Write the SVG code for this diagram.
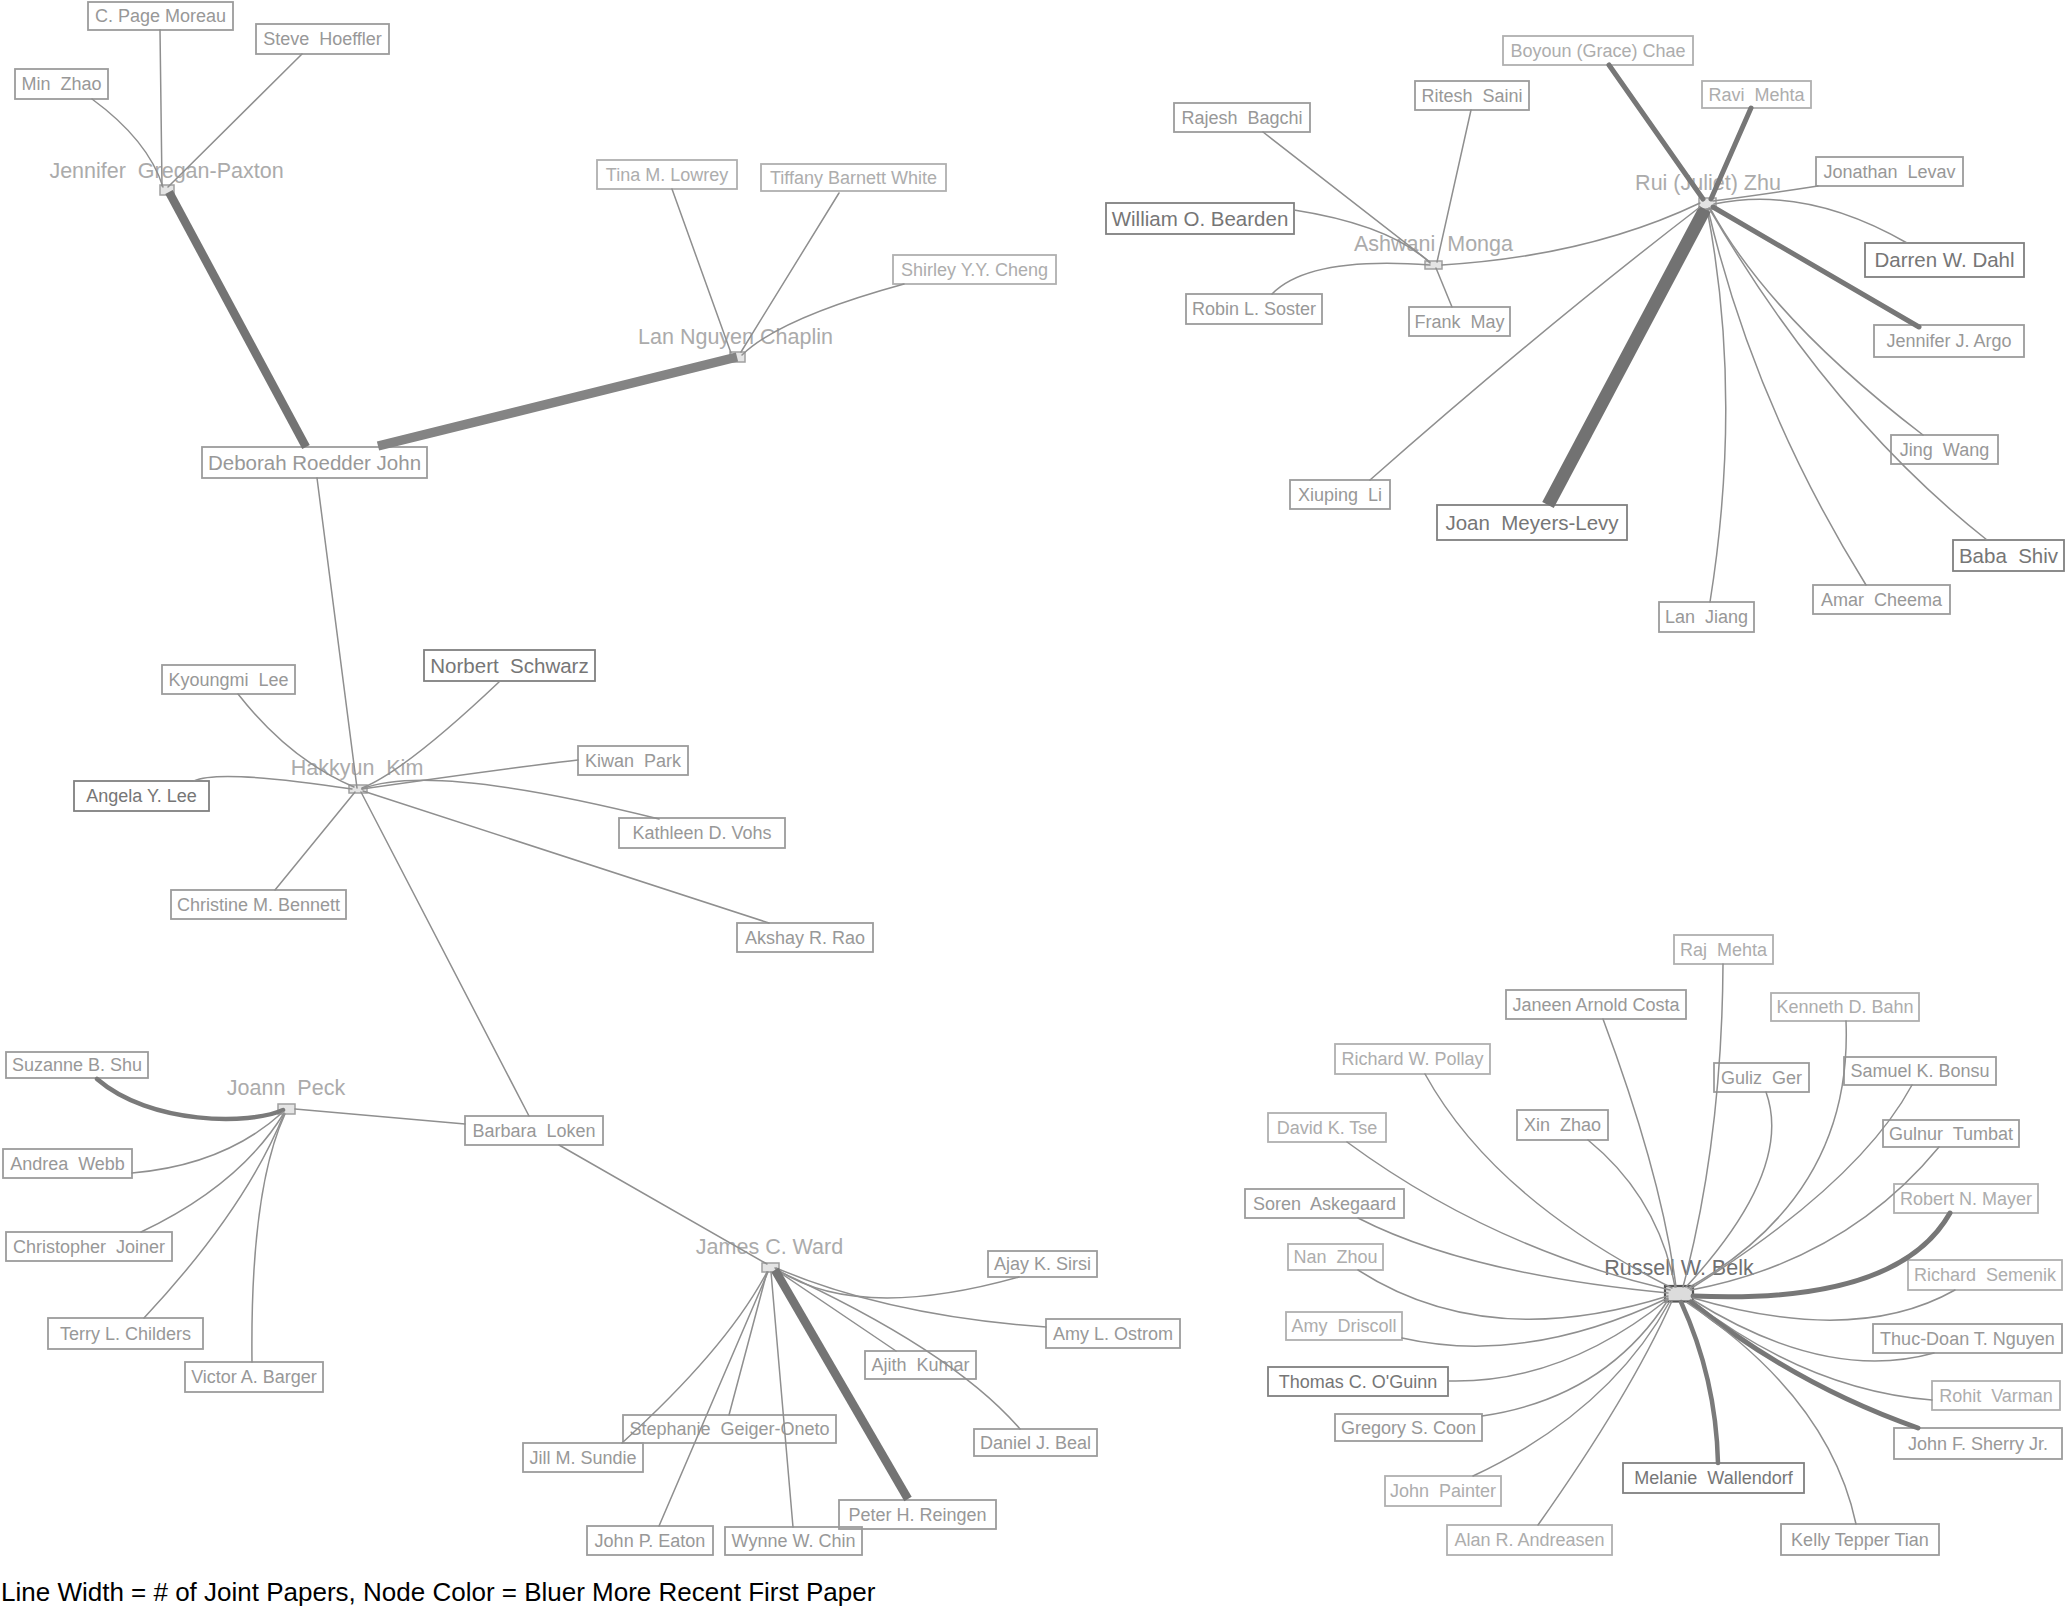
<svg xmlns="http://www.w3.org/2000/svg" width="2066" height="1609" viewBox="0 0 2066 1609" xml:space="preserve">
<style>
text { font-family: "Liberation Sans", Arial, sans-serif; white-space: pre; }
.lbl { font-size: 18px; text-anchor: middle; }
.big { font-size: 20.5px; text-anchor: middle; }
.hub { font-size: 21.5px; text-anchor: middle; fill: #ababab; }
.hubd { font-size: 21.5px; text-anchor: middle; fill: #707070; }
rect.box { fill: none; stroke-width: 1.8; }
.c1 rect.box { stroke: #b0b0b0; } .c1 text { fill: #adadad; }
.c2 rect.box { stroke: #9c9c9c; } .c2 text { fill: #989898; }
.c3 rect.box { stroke: #808080; } .c3 text { fill: #767676; }
rect.hubsq { fill: #e4e4e4; stroke: #a0a0a0; stroke-width: 1.5; }
rect.hubsqd { fill: #dcdcdc; stroke: #555555; stroke-width: 2.2; }
#connectors path { fill: none; stroke: #8f8f8f; stroke-width: 1.5; stroke-linecap: round; }
#connectors path.w4 { stroke: #7a7a7a; stroke-width: 4.5; }
#connectors path.w5 { stroke: #777777; stroke-width: 5; }
#connectors path.w8 { stroke: #747474; stroke-width: 8.5; stroke-linecap: butt; }
#connectors path.w9 { stroke: #848484; stroke-width: 9.5; stroke-linecap: butt; }
#connectors path.w13 { stroke: #727272; stroke-width: 13; stroke-linecap: butt; }
.legend { font-size: 26px; fill: #000000; }
</style>
<rect x="0" y="0" width="2066" height="1609" fill="#ffffff"/>

<!-- hub nodes -->
<g id="n-jennifer-gregan-paxton"><text class="hub" x="166.5" y="178">Jennifer  Gregan-Paxton</text><rect class="hubsq" x="160" y="185" width="14" height="10"/></g>
<g id="n-lan-nguyen-chaplin"><text class="hub" x="735.5" y="344">Lan Nguyen Chaplin</text><rect class="hubsq" x="730" y="352" width="15" height="10"/></g>
<g id="n-rui-juliet-zhu"><text class="hub" x="1708" y="190">Rui (Juliet) Zhu</text><rect class="hubsq" x="1699" y="198" width="17" height="11"/></g>
<g id="n-ashwani-monga"><text class="hub" x="1433.5" y="251">Ashwani  Monga</text><rect class="hubsq" x="1425" y="261" width="17" height="8"/></g>
<g id="n-hakkyun-kim"><text class="hub" x="357" y="775">Hakkyun  Kim</text><rect class="hubsq" x="349" y="785" width="18" height="8"/></g>
<g id="n-joann-peck"><text class="hub" x="286" y="1095">Joann  Peck</text><rect class="hubsq" x="278" y="1104" width="17" height="10"/></g>
<g id="n-james-c-ward"><text class="hub" x="769.5" y="1254">James C. Ward</text><rect class="hubsq" x="762" y="1263" width="17" height="9"/></g>
<g id="n-russell-w-belk"><text class="hubd" x="1679" y="1275">Russell W. Belk</text><rect class="hubsqd" x="1665" y="1286" width="28" height="15.5"/></g>

<!-- boxed nodes: top-left cluster -->
<g id="n-c-page-moreau" class="c2"><rect class="box" x="88" y="2" width="145" height="28"/><text class="lbl" x="160.5" y="22.3">C. Page Moreau</text></g>
<g id="n-steve-hoeffler" class="c2"><rect class="box" x="256" y="24" width="133" height="30"/><text class="lbl" x="322.5" y="45.3">Steve  Hoeffler</text></g>
<g id="n-min-zhao" class="c2"><rect class="box" x="15" y="69" width="93" height="30"/><text class="lbl" x="61.5" y="90.3">Min  Zhao</text></g>
<g id="n-deborah-roedder-john" class="c2"><rect class="box" x="202" y="447" width="225" height="31"/><text class="big" x="314.5" y="469.7">Deborah Roedder John</text></g>
<g id="n-tina-m-lowrey" class="c1"><rect class="box" x="597" y="160" width="140" height="29"/><text class="lbl" x="667" y="180.8">Tina M. Lowrey</text></g>
<g id="n-tiffany-barnett-white" class="c1"><rect class="box" x="761" y="164" width="185" height="27"/><text class="lbl" x="853.5" y="183.8">Tiffany Barnett White</text></g>
<g id="n-shirley-yy-cheng" class="c1"><rect class="box" x="893" y="255" width="163" height="29"/><text class="lbl" x="974.5" y="275.8">Shirley Y.Y. Cheng</text></g>

<!-- Rui / Ashwani cluster -->
<g id="n-boyoun-grace-chae" class="c1"><rect class="box" x="1503" y="36" width="190" height="29"/><text class="lbl" x="1598" y="56.8">Boyoun (Grace) Chae</text></g>
<g id="n-ritesh-saini" class="c2"><rect class="box" x="1415" y="81" width="114" height="29"/><text class="lbl" x="1472" y="101.8">Ritesh  Saini</text></g>
<g id="n-ravi-mehta" class="c1"><rect class="box" x="1702" y="81" width="109" height="27"/><text class="lbl" x="1756.5" y="100.8">Ravi  Mehta</text></g>
<g id="n-rajesh-bagchi" class="c2"><rect class="box" x="1174" y="103" width="136" height="29"/><text class="lbl" x="1242" y="123.8">Rajesh  Bagchi</text></g>
<g id="n-jonathan-levav" class="c2"><rect class="box" x="1816" y="157" width="147" height="29"/><text class="lbl" x="1889.5" y="177.8">Jonathan  Levav</text></g>
<g id="n-william-o-bearden" class="c3"><rect class="box" x="1106" y="203" width="188" height="31"/><text class="big" x="1200" y="225.7">William O. Bearden</text></g>
<g id="n-darren-w-dahl" class="c3"><rect class="box" x="1865" y="243" width="159" height="34"/><text class="big" x="1944.5" y="267.2">Darren W. Dahl</text></g>
<g id="n-robin-l-soster" class="c2"><rect class="box" x="1186" y="294" width="136" height="30"/><text class="lbl" x="1254" y="315.3">Robin L. Soster</text></g>
<g id="n-frank-may" class="c2"><rect class="box" x="1409" y="307" width="101" height="29"/><text class="lbl" x="1459.5" y="327.8">Frank  May</text></g>
<g id="n-jennifer-j-argo" class="c2"><rect class="box" x="1874" y="325" width="150" height="32"/><text class="lbl" x="1949" y="347.3">Jennifer J. Argo</text></g>
<g id="n-jing-wang" class="c2"><rect class="box" x="1891" y="435" width="107" height="29"/><text class="lbl" x="1944.5" y="455.8">Jing  Wang</text></g>
<g id="n-xiuping-li" class="c2"><rect class="box" x="1290" y="480" width="100" height="29"/><text class="lbl" x="1340" y="500.8">Xiuping  Li</text></g>
<g id="n-joan-meyers-levy" class="c3"><rect class="box" x="1437" y="505" width="190" height="35"/><text class="big" x="1532" y="529.7">Joan  Meyers-Levy</text></g>
<g id="n-baba-shiv" class="c3"><rect class="box" x="1953" y="540" width="111" height="31"/><text class="big" x="2008.5" y="562.7">Baba  Shiv</text></g>
<g id="n-amar-cheema" class="c2"><rect class="box" x="1813" y="585" width="137" height="29"/><text class="lbl" x="1881.5" y="605.8">Amar  Cheema</text></g>
<g id="n-lan-jiang" class="c2"><rect class="box" x="1659" y="602" width="95" height="30"/><text class="lbl" x="1706.5" y="623.3">Lan  Jiang</text></g>

<!-- Hakkyun cluster -->
<g id="n-kyoungmi-lee" class="c2"><rect class="box" x="162" y="665" width="133" height="29"/><text class="lbl" x="228.5" y="685.8">Kyoungmi  Lee</text></g>
<g id="n-norbert-schwarz" class="c3"><rect class="box" x="424" y="650" width="171" height="31"/><text class="big" x="509.5" y="672.7">Norbert  Schwarz</text></g>
<g id="n-kiwan-park" class="c2"><rect class="box" x="578" y="746" width="110" height="29"/><text class="lbl" x="633" y="766.8">Kiwan  Park</text></g>
<g id="n-angela-y-lee" class="c3"><rect class="box" x="74" y="781" width="135" height="30"/><text class="lbl" x="141.5" y="802.3">Angela Y. Lee</text></g>
<g id="n-kathleen-d-vohs" class="c2"><rect class="box" x="619" y="818" width="166" height="30"/><text class="lbl" x="702" y="839.3">Kathleen D. Vohs</text></g>
<g id="n-christine-m-bennett" class="c2"><rect class="box" x="171" y="890" width="175" height="29"/><text class="lbl" x="258.5" y="910.8">Christine M. Bennett</text></g>
<g id="n-akshay-r-rao" class="c2"><rect class="box" x="737" y="923" width="136" height="29"/><text class="lbl" x="805" y="943.8">Akshay R. Rao</text></g>

<!-- Joann cluster -->
<g id="n-suzanne-b-shu" class="c2"><rect class="box" x="6" y="1052" width="142" height="26"/><text class="lbl" x="77" y="1071.3">Suzanne B. Shu</text></g>
<g id="n-andrea-webb" class="c2"><rect class="box" x="3" y="1149" width="129" height="29"/><text class="lbl" x="67.5" y="1169.8">Andrea  Webb</text></g>
<g id="n-christopher-joiner" class="c2"><rect class="box" x="6" y="1232" width="166" height="29"/><text class="lbl" x="89" y="1252.8">Christopher  Joiner</text></g>
<g id="n-terry-l-childers" class="c2"><rect class="box" x="48" y="1318" width="155" height="31"/><text class="lbl" x="125.5" y="1339.8">Terry L. Childers</text></g>
<g id="n-victor-a-barger" class="c2"><rect class="box" x="185" y="1362" width="138" height="30"/><text class="lbl" x="254" y="1383.3">Victor A. Barger</text></g>
<g id="n-barbara-loken" class="c2"><rect class="box" x="465" y="1116" width="138" height="29"/><text class="lbl" x="534" y="1136.8">Barbara  Loken</text></g>

<!-- James cluster -->
<g id="n-ajay-k-sirsi" class="c2"><rect class="box" x="988" y="1251" width="109" height="26"/><text class="lbl" x="1042.5" y="1270.3">Ajay K. Sirsi</text></g>
<g id="n-amy-l-ostrom" class="c2"><rect class="box" x="1046" y="1319" width="134" height="29"/><text class="lbl" x="1113" y="1339.8">Amy L. Ostrom</text></g>
<g id="n-ajith-kumar" class="c2"><rect class="box" x="865" y="1351" width="111" height="28"/><text class="lbl" x="920.5" y="1371.3">Ajith  Kumar</text></g>
<g id="n-daniel-j-beal" class="c2"><rect class="box" x="974" y="1429" width="123" height="27"/><text class="lbl" x="1035.5" y="1448.8">Daniel J. Beal</text></g>
<g id="n-stephanie-geiger-oneto" class="c2"><rect class="box" x="623" y="1415" width="213" height="28"/><text class="lbl" x="729.5" y="1435.3">Stephanie  Geiger-Oneto</text></g>
<g id="n-jill-m-sundie" class="c2"><rect class="box" x="523" y="1443" width="120" height="29"/><text class="lbl" x="583" y="1463.8">Jill M. Sundie</text></g>
<g id="n-peter-h-reingen" class="c2"><rect class="box" x="839" y="1500" width="157" height="29"/><text class="lbl" x="917.5" y="1520.8">Peter H. Reingen</text></g>
<g id="n-john-p-eaton" class="c2"><rect class="box" x="587" y="1526" width="126" height="29"/><text class="lbl" x="650" y="1546.8">John P. Eaton</text></g>
<g id="n-wynne-w-chin" class="c2"><rect class="box" x="725" y="1527" width="137" height="28"/><text class="lbl" x="793.5" y="1547.3">Wynne W. Chin</text></g>

<!-- Russell cluster -->
<g id="n-raj-mehta" class="c1"><rect class="box" x="1674" y="935" width="99" height="29"/><text class="lbl" x="1723.5" y="955.8">Raj  Mehta</text></g>
<g id="n-janeen-arnold-costa" class="c2"><rect class="box" x="1506" y="990" width="180" height="29"/><text class="lbl" x="1596" y="1010.8">Janeen Arnold Costa</text></g>
<g id="n-kenneth-d-bahn" class="c1"><rect class="box" x="1771" y="993" width="148" height="28"/><text class="lbl" x="1845" y="1013.3">Kenneth D. Bahn</text></g>
<g id="n-richard-w-pollay" class="c1"><rect class="box" x="1335" y="1044" width="155" height="30"/><text class="lbl" x="1412.5" y="1065.3">Richard W. Pollay</text></g>
<g id="n-guliz-ger" class="c2"><rect class="box" x="1714" y="1063" width="95" height="29"/><text class="lbl" x="1761.5" y="1083.8">Guliz  Ger</text></g>
<g id="n-samuel-k-bonsu" class="c2"><rect class="box" x="1844" y="1057" width="152" height="28"/><text class="lbl" x="1920" y="1077.3">Samuel K. Bonsu</text></g>
<g id="n-david-k-tse" class="c1"><rect class="box" x="1268" y="1113" width="118" height="29"/><text class="lbl" x="1327" y="1133.8">David K. Tse</text></g>
<g id="n-xin-zhao" class="c2"><rect class="box" x="1517" y="1110" width="91" height="30"/><text class="lbl" x="1562.5" y="1131.3">Xin  Zhao</text></g>
<g id="n-gulnur-tumbat" class="c2"><rect class="box" x="1883" y="1120" width="136" height="27"/><text class="lbl" x="1951" y="1139.8">Gulnur  Tumbat</text></g>
<g id="n-soren-askegaard" class="c2"><rect class="box" x="1245" y="1189" width="159" height="29"/><text class="lbl" x="1324.5" y="1209.8">Soren  Askegaard</text></g>
<g id="n-robert-n-mayer" class="c1"><rect class="box" x="1894" y="1184" width="144" height="29"/><text class="lbl" x="1966" y="1204.8">Robert N. Mayer</text></g>
<g id="n-nan-zhou" class="c1"><rect class="box" x="1288" y="1244" width="95" height="26"/><text class="lbl" x="1335.5" y="1263.3">Nan  Zhou</text></g>
<g id="n-richard-semenik" class="c1"><rect class="box" x="1908" y="1260" width="154" height="30"/><text class="lbl" x="1985" y="1281.3">Richard  Semenik</text></g>
<g id="n-amy-driscoll" class="c1"><rect class="box" x="1286" y="1312" width="116" height="28"/><text class="lbl" x="1344" y="1332.3">Amy  Driscoll</text></g>
<g id="n-thuc-doan-t-nguyen" class="c2"><rect class="box" x="1873" y="1324" width="189" height="29"/><text class="lbl" x="1967.5" y="1344.8">Thuc-Doan T. Nguyen</text></g>
<g id="n-thomas-c-oguinn" class="c3"><rect class="box" x="1268" y="1367" width="180" height="29"/><text class="lbl" x="1358" y="1387.8">Thomas C. O'Guinn</text></g>
<g id="n-rohit-varman" class="c1"><rect class="box" x="1932" y="1381" width="128" height="29"/><text class="lbl" x="1996" y="1401.8">Rohit  Varman</text></g>
<g id="n-gregory-s-coon" class="c2"><rect class="box" x="1335" y="1414" width="147" height="27"/><text class="lbl" x="1408.5" y="1433.8">Gregory S. Coon</text></g>
<g id="n-john-f-sherry-jr" class="c2"><rect class="box" x="1894" y="1428" width="168" height="31"/><text class="lbl" x="1978" y="1449.8">John F. Sherry Jr.</text></g>
<g id="n-melanie-wallendorf" class="c3"><rect class="box" x="1623" y="1463" width="181" height="30"/><text class="lbl" x="1713.5" y="1484.3">Melanie  Wallendorf</text></g>
<g id="n-john-painter" class="c1"><rect class="box" x="1385" y="1476" width="116" height="30"/><text class="lbl" x="1443" y="1497.3">John  Painter</text></g>
<g id="n-alan-r-andreasen" class="c1"><rect class="box" x="1447" y="1525" width="165" height="30"/><text class="lbl" x="1529.5" y="1546.3">Alan R. Andreasen</text></g>
<g id="n-kelly-tepper-tian" class="c2"><rect class="box" x="1781" y="1524" width="158" height="31"/><text class="lbl" x="1860" y="1545.8">Kelly Tepper Tian</text></g>

<g id="connectors">
<path d="M92,99 Q148,140 163,187"/>
<path d="M160,30 L162,186"/>
<path d="M302,54 L168,187"/>
<path class="w8" d="M169,192 L306,447"/>
<path class="w9" d="M378,446 L737,357"/>
<path d="M672,189 L731,353"/>
<path d="M839,193 L741,352"/>
<path d="M904,284 Q780,318 742,355"/>
<path d="M317,478 L357,788"/>
<path d="M238,694 Q290,760 354,787"/>
<path d="M499,682 Q405,771 362,788"/>
<path d="M578,760 Q524,766 362,789"/>
<path d="M194,781 Q219,769 352,789"/>
<path d="M659,819 Q431,762 362,789"/>
<path d="M769,923 L363,791"/>
<path d="M275,890 L355,792"/>
<path d="M361,792 L529,1116"/>
<path d="M465,1124 L295,1109"/>
<path d="M559,1145 L767,1264"/>
<path class="w4" d="M97,1079 C150,1125 250,1125 283,1110"/>
<path d="M132,1173 Q225,1165 283,1112"/>
<path d="M141,1232 Q240,1185 284,1113"/>
<path d="M144,1318 Q245,1210 284,1114"/>
<path d="M252,1362 Q250,1190 285,1114"/>
<path d="M1019,1277 Q855,1323 775,1268"/>
<path d="M1046,1327 Q889,1316 776,1268"/>
<path d="M896,1351 L776,1270"/>
<path d="M1020,1429 Q952,1350 776,1270"/>
<path class="w8" d="M908,1499 L775,1270"/>
<path d="M793,1527 L771,1272"/>
<path d="M729,1415 L767,1272"/>
<path d="M659,1526 Q705,1420 768,1272"/>
<path d="M622,1443 Q727,1348 767,1272"/>
<path class="w5" d="M1609,65 L1703,199"/>
<path class="w5" d="M1751,108 L1711,199"/>
<path d="M1818,186 Q1760,195 1713,201"/>
<path d="M1907,243 Q1806,185 1714,204"/>
<path class="w5" d="M1919,327 L1713,207"/>
<path d="M1923,435 Q1770,318 1710,208"/>
<path d="M1987,540 Q1830,416 1709,208"/>
<path d="M1866,585 Q1753,403 1708,209"/>
<path d="M1710,602 Q1743,395 1707,209"/>
<path class="w13" d="M1548,505 L1705,209"/>
<path d="M1370,480 Q1540,330 1700,207"/>
<path d="M1442,265 Q1589,256 1700,203"/>
<path d="M1263,132 L1430,262"/>
<path d="M1471,110 L1437,262"/>
<path d="M1452,307 L1436,268"/>
<path d="M1294,210 Q1390,225 1430,263"/>
<path d="M1272,294 Q1309,256 1430,265"/>
<path d="M1723,964 Q1722,1140 1683,1287"/>
<path d="M1603,1019 Q1662,1177 1676,1287"/>
<path d="M1846,1021 Q1853,1195 1688,1288"/>
<path d="M1425,1074 Q1494,1199 1672,1288"/>
<path d="M1766,1092 Q1794,1170 1686,1287"/>
<path d="M1912,1085 Q1859,1183 1690,1289"/>
<path d="M1347,1142 Q1491,1248 1670,1290"/>
<path d="M1588,1140 Q1658,1197 1675,1287"/>
<path d="M1939,1147 Q1845,1261 1691,1290"/>
<path d="M1358,1218 Q1467,1274 1668,1293"/>
<path class="w5" d="M1950,1213 Q1898,1305 1693,1296"/>
<path d="M1358,1270 Q1487,1353 1668,1296"/>
<path d="M1955,1290 Q1856,1346 1693,1298"/>
<path d="M1402,1338 Q1525,1366 1668,1298"/>
<path d="M1934,1353 Q1826,1383 1693,1300"/>
<path d="M1448,1381 Q1562,1384 1668,1299"/>
<path d="M1932,1400 Q1808,1390 1692,1301"/>
<path d="M1482,1416 Q1605,1398 1668,1300"/>
<path class="w5" d="M1918,1428 Q1795,1385 1691,1302"/>
<path class="w4" d="M1718,1463 Q1716,1378 1681,1302"/>
<path d="M1473,1476 Q1609,1412 1670,1301"/>
<path d="M1538,1525 Q1630,1395 1672,1301"/>
<path d="M1856,1524 Q1829,1397 1686,1302"/>
</g>

<g id="legend"><text class="legend" x="1" y="1601">Line Width = # of Joint Papers, Node Color = Bluer More Recent First Paper</text></g>
</svg>
